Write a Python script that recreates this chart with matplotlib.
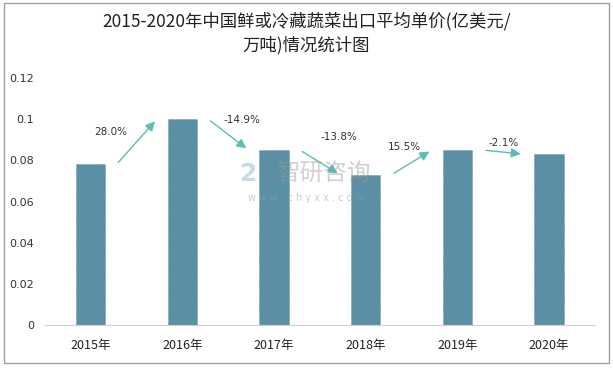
import matplotlib.pyplot as plt
from matplotlib.patches import Rectangle

plt.rcParams['font.family'] = ['Noto Sans CJK SC', 'DejaVu Sans']

# 데이터
years = ['2015年', '2016年', '2017年', '2018年', '2019年', '2020年']
price = [0.078, 0.100, 0.085, 0.073, 0.085, 0.083]
growth = ['28.0%', '-14.9%', '-13.8%', '15.5%', '-2.1%']
yticks = [0, 0.02, 0.04, 0.06, 0.08, 0.1, 0.12]
ytick_labels = ['0', '0.02', '0.04', '0.06', '0.08', '0.1', '0.12']

# 증감률 라벨 위치 (x, y)
label_pos = [(0.22, 0.094), (1.65, 0.0995), (2.71, 0.0915), (3.42, 0.0865), (4.50, 0.0885)]

fig = plt.figure(figsize=(6.13, 3.68), dpi=100)
ax = fig.add_axes([0.0734, 0.1168, 0.8972, 0.6712])

x = range(len(years))
ax.bar(x, price, width=0.32, color='#5B8FA6', edgecolor='#4A7A90', linewidth=0.5, linestyle=':')

# 화살표
for i in range(len(growth)):
    ax.annotate('', xy=(i + 0.72, price[i + 1]), xytext=(i + 0.28, price[i]),
                arrowprops=dict(arrowstyle='-|>', color='#5CBDB5', lw=1.0, mutation_scale=14))
    ax.text(label_pos[i][0], label_pos[i][1], growth[i], ha='center', va='center',
            fontsize=7.5, color='#333333', family=['DejaVu Sans'])

ax.set_xlim(-0.5, 5.5)
ax.set_ylim(0, 0.12)
ax.set_xticks(list(x))
ax.set_xticklabels(years, fontsize=9, color='#222222')
ax.set_yticks(yticks)
ax.set_yticklabels(ytick_labels, fontsize=8, color='#333333', family=['DejaVu Sans'])
ax.tick_params(length=0, pad=8)
ax.tick_params(axis='x', pad=10)
for s in ['top', 'right', 'left']:
    ax.spines[s].set_visible(False)
ax.spines['bottom'].set_color('#D0D0D0')

# 워터마크
fig.text(0.405, 0.527, '2', fontsize=18, color='#9EC3DE', alpha=0.6, ha='center', va='center',
         family=['DejaVu Sans'], fontweight='bold')
fig.text(0.528, 0.527, '智研咨询', fontsize=17, color='#999999', alpha=0.45, ha='center', va='center')
fig.text(0.5, 0.462, 'w w w . c h y x x . c o m', fontsize=7, color='#999999', alpha=0.5,
         ha='center', va='center', family=['DejaVu Sans'])

fig.text(0.5, 0.942, '2015-2020年中国鲜或冷藏蔬菜出口平均单价(亿美元/', fontsize=12.5,
         ha='center', va='center', color='#222222')
fig.text(0.5, 0.877, '万吨)情况统计图', fontsize=12.5, ha='center', va='center', color='#222222')

# 테두리
fig.patches.append(Rectangle((0.006, 0.014), 0.988, 0.978, transform=fig.transFigure,
                             fill=False, edgecolor='#A0A0A0', linewidth=1.0))

plt.savefig('out.png', dpi=100)
